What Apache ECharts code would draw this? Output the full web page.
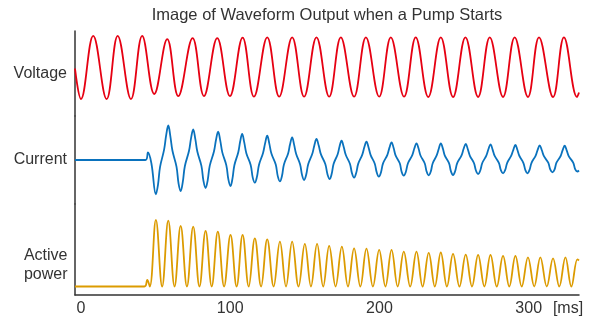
<!DOCTYPE html>
<html>
<head>
<meta charset="utf-8">
<title>Image of Waveform Output when a Pump Starts</title>
<script src="https://cdn.jsdelivr.net/npm/echarts@6.0.0/dist/echarts.min.js"></script>
<style>
  html, body { margin: 0; padding: 0; background: #fff; }
  #chart { width: 603px; height: 320px; }
</style>
</head>
<body>
<div id="chart"></div>
<script>
// time in ms, values in relative units
const timeTicks = [0, 100, 200, 300];

const voltage = [
  [-4, -0.05], [0.0, -1.07], [8.2, 1.04], [17.2, -1.07], [24.6, 1.04], [33.5, -1.07],
  [41.0, 1.04], [49.1, -0.9], [57.8, 0.93], [65.2, -0.97], [74.8, 0.96], [82.4, -0.97],
  [91.3, 0.96], [99.8, -0.97], [108.3, 0.98], [115.9, -0.99], [124.8, 0.99], [132.8, -0.99],
  [141.5, 0.99], [149.5, -0.99], [157.8, 0.99], [166.3, -0.99], [174.1, 0.99], [183.0, -0.99],
  [190.9, 0.99], [199.8, -0.99], [207.6, 0.99], [216.5, -0.99], [224.3, 0.99], [232.7, -1.0],
  [241.1, 0.99], [249.3, -1.0], [257.6, 0.99], [266.1, -1.0], [273.9, 0.99], [282.8, -1.0],
  [290.6, 0.99], [299.5, -1.0], [306.9, 0.99], [316.3, -1.0], [323.6, 0.99], [332.4, -1.0],
  [333.7, -0.85]
];

// peaks, troughs and the shoulder points between them
const current = [
  [-4, 0], [43.2, 0], [44.9, 0.75], [47.2, -0.35], [50.2, -3.43],
  [51.6, -2.48], [53.0, -0.69], [55.7, 1.03], [57.1, 2.48], [58.5, 3.45],
  [59.9, 2.36], [61.3, 0.92], [64.0, -0.66], [65.4, -2.36], [66.8, -3.1],
  [68.2, -2.22], [69.6, -0.62], [72.4, 0.92], [73.8, 2.22], [75.2, 3.05],
  [76.6, 2.11], [78.0, 0.82], [80.7, -0.59], [82.1, -2.11], [83.5, -2.8],
  [84.9, -2.03], [86.3, -0.56], [89.1, 0.85], [90.5, 2.03], [91.9, 2.83],
  [93.3, 1.96], [94.7, 0.76], [97.4, -0.54], [98.8, -1.96], [100.2, -2.6],
  [101.5, -1.87], [102.8, -0.52], [105.4, 0.78], [106.7, 1.87], [108.0, 2.6],
  [109.4, 1.76], [110.8, 0.68], [113.7, -0.49], [115.1, -1.76], [116.5, -2.27],
  [117.9, -1.69], [119.3, -0.47], [122.0, 0.71], [123.4, 1.69], [124.8, 2.43],
  [126.2, 1.64], [127.6, 0.64], [130.5, -0.46], [131.9, -1.64], [133.3, -2.13],
  [134.7, -1.58], [136.0, -0.44], [138.8, 0.66], [140.1, 1.58], [141.5, 2.27],
  [142.8, 1.54], [144.2, 0.6], [146.8, -0.43], [148.2, -1.54], [149.5, -2.0],
  [150.9, -1.48], [152.3, -0.41], [155.0, 0.62], [156.4, 1.48], [157.8, 2.1],
  [159.3, 1.44], [160.8, 0.56], [163.7, -0.4], [165.2, -1.44], [166.7, -1.9],
  [168.0, -1.38], [169.3, -0.38], [172.0, 0.58], [173.3, 1.38], [174.6, 1.93],
  [176.0, 1.33], [177.4, 0.52], [180.2, -0.37], [181.6, -1.33], [183.0, -1.77],
  [184.4, -1.3], [185.8, -0.36], [188.5, 0.54], [189.9, 1.3], [191.3, 1.83],
  [192.7, 1.26], [194.1, 0.49], [196.8, -0.35], [198.2, -1.26], [199.6, -1.67],
  [201.0, -1.24], [202.4, -0.34], [205.3, 0.52], [206.7, 1.24], [208.1, 1.77],
  [209.5, 1.2], [210.8, 0.47], [213.6, -0.33], [214.9, -1.2], [216.3, -1.57],
  [217.7, -1.17], [219.1, -0.32], [222.0, 0.49], [223.4, 1.17], [224.8, 1.67],
  [226.2, 1.15], [227.5, 0.45], [230.3, -0.32], [231.6, -1.15], [233.0, -1.53],
  [234.4, -1.15], [235.7, -0.32], [238.4, 0.48], [239.8, 1.15], [241.1, 1.67],
  [242.5, 1.14], [243.8, 0.44], [246.6, -0.32], [247.9, -1.14], [249.3, -1.5],
  [250.7, -1.12], [252.1, -0.31], [255.0, 0.47], [256.4, 1.12], [257.8, 1.6],
  [259.2, 1.08], [260.6, 0.42], [263.3, -0.3], [264.7, -1.08], [266.1, -1.4],
  [267.5, -1.07], [268.9, -0.3], [271.6, 0.44], [273.0, 1.07], [274.4, 1.57],
  [275.8, 1.04], [277.2, 0.41], [280.0, -0.29], [281.4, -1.04], [282.8, -1.33],
  [284.2, -1.02], [285.6, -0.28], [288.3, 0.43], [289.7, 1.02], [291.1, 1.5],
  [292.4, 1.02], [293.8, 0.4], [296.4, -0.28], [297.8, -1.02], [299.1, -1.33],
  [300.5, -1.01], [301.9, -0.28], [304.6, 0.42], [306.0, 1.01], [307.4, 1.47],
  [308.8, 0.97], [310.2, 0.38], [313.1, -0.27], [314.5, -0.97], [315.9, -1.23],
  [317.3, -0.96], [318.6, -0.27], [321.4, 0.4], [322.7, 0.96], [324.1, 1.43],
  [325.5, 0.94], [326.9, 0.36], [329.8, -0.26], [331.2, -0.94], [332.6, -1.15],
  [333.7, -1.05]
];

const power = [
  [-4, 0], [42.5, 0], [44.4, 0.33], [46.1, 0],
  [50.2, 3.33], [54.4, 0], [58.5, 3.29], [62.7, 0], [66.8, 3.03], [71.0, 0],
  [75.2, 2.99], [79.4, 0], [83.5, 2.78], [87.6, 0], [91.7, 2.74], [95.9, 0],
  [100.2, 2.58], [104.3, 0], [108.3, 2.58], [112.4, 0], [116.5, 2.41], [120.7, 0],
  [124.8, 2.36], [129.1, 0], [133.3, 2.24], [137.4, 0], [141.5, 2.24], [145.8, 0],
  [150.0, 2.13], [154.1, 0], [158.2, 2.13], [162.3, 0], [166.3, 2.03], [170.6, 0],
  [174.8, 1.99], [178.9, 0], [183.0, 1.91], [187.2, 0], [191.3, 1.89], [195.6, 0],
  [199.8, 1.83], [204.0, 0], [208.1, 1.83], [212.2, 0], [216.3, 1.74], [220.6, 0],
  [224.8, 1.74], [228.9, 0], [233.0, 1.68], [237.1, 0], [241.1, 1.7], [245.2, 0],
  [249.3, 1.63], [253.6, 0], [257.8, 1.59], [262.0, 0], [266.1, 1.58], [270.3, 0],
  [274.4, 1.58], [278.6, 0], [282.8, 1.53], [287.0, 0], [291.1, 1.53], [295.3, 0],
  [299.5, 1.46], [303.7, 0], [307.8, 1.46], [312.1, 0], [316.3, 1.41], [320.5, 0],
  [324.6, 1.46], [328.6, 0], [332.6, 1.36], [333.7, 1.3]
];

const FONT = 'Liberation Sans, Arial, Helvetica, sans-serif';
const TEXT = '#333';
const AXIS = '#333';

const chart = echarts.init(document.getElementById('chart'));

function yAxis(idx, name, min, max) {
  return {
    type: 'value',
    gridIndex: idx,
    min: min,
    max: max,
    name: name,
    nameLocation: 'middle',
    nameRotate: 0,
    nameGap: 8,
    nameTextStyle: {
      fontFamily: FONT, fontSize: 16, color: TEXT,
      align: 'right', verticalAlign: 'middle'
    },
    axisLine: { show: true, onZero: false, lineStyle: { color: AXIS, width: 1.5 } },
    axisTick: { show: false },
    axisLabel: { show: false },
    splitLine: { show: false }
  };
}

function xAxis(idx, visible) {
  return {
    type: 'value',
    gridIndex: idx,
    min: -4,
    max: 333.7,
    show: visible,
    axisLine: { show: true, onZero: false, lineStyle: { color: AXIS, width: 1.5 } },
    axisTick: { show: false },
    splitLine: { show: false },
    axisLabel: {
      customValues: timeTicks,
      fontFamily: FONT, fontSize: 16, color: TEXT, margin: 6
    },
    name: visible ? '[ms]' : '',
    nameLocation: 'end',
    nameGap: -11,
    nameTextStyle: {
      fontFamily: FONT, fontSize: 16, color: TEXT,
      align: 'center', verticalAlign: 'top', padding: [6, 0, 0, 0]
    }
  };
}

function line(idx, data, color) {
  return {
    type: 'line',
    xAxisIndex: idx,
    yAxisIndex: idx,
    data: data,
    smooth: 0.4,
    showSymbol: false,
    lineStyle: { color: color, width: 1.8 },
    itemStyle: { color: color }
  };
}

chart.setOption({
  animation: false,
  title: {
    text: 'Image of Waveform Output when a Pump Starts',
    left: 327,
    textAlign: 'center',
    top: 7,
    padding: 0,
    textStyle: { fontFamily: FONT, fontSize: 16.5, fontWeight: 'normal', color: TEXT }
  },
  grid: [
    { left: 75, right: 24, top: 31, height: 85 },
    { left: 75, right: 24, top: 116, height: 88 },
    { left: 75, right: 24, top: 204, height: 91 }
  ],
  xAxis: [xAxis(0, false), xAxis(1, false), xAxis(2, true)],
  yAxis: [
    yAxis(0, 'Voltage', -1.633, 1.2),
    yAxis(1, 'Current', -4.4, 4.4),
    yAxis(2, '', -0.425, 4.125)
  ],
  graphic: [{
    type: 'text',
    x: 67.5,
    y: 246,
    style: {
      text: 'Active\npower',
      font: '16px ' + FONT,
      fill: TEXT,
      align: 'right',
      verticalAlign: 'top',
      lineHeight: 19
    }
  }],
  series: [
    line(0, voltage, '#e60012'),
    line(1, current, '#0a72bd'),
    line(2, power, '#dc9b00')
  ]
});
</script>
</body>
</html>
